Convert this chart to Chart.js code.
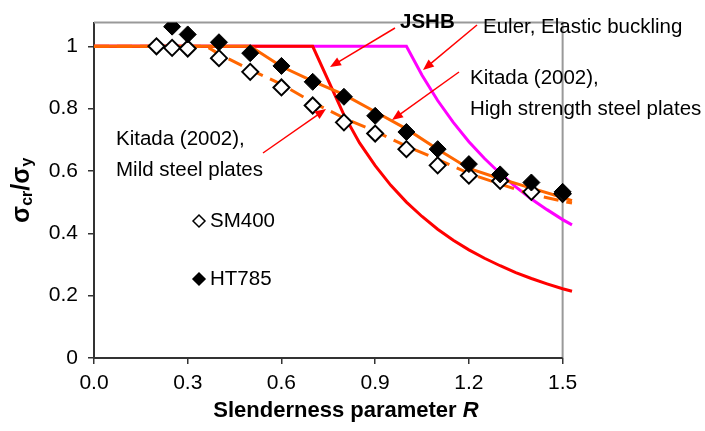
<!DOCTYPE html>
<html>
<head>
<meta charset="utf-8">
<script src="https://cdn.jsdelivr.net/npm/chart.js"></script>
<style>
  html, body { margin: 0; padding: 0; background: #fff; }
</style>
</head>
<body>
<canvas id="chart" width="705" height="431"></canvas>
<script>
// test data
const sm400R = [0.2, 0.25, 0.3, 0.4, 0.5, 0.6, 0.7, 0.8, 0.9, 1.0, 1.1, 1.2, 1.3, 1.4, 1.5];
const sm400 = [1.0, 0.995, 0.993, 0.962, 0.918, 0.868, 0.81, 0.756, 0.72, 0.67, 0.618, 0.585, 0.568, 0.533, 0.527];

const ht785R = [0.25, 0.3, 0.4, 0.5, 0.6, 0.7, 0.8, 0.9, 1.0, 1.1, 1.2, 1.3, 1.4, 1.5];
const ht785 = [1.063, 1.038, 1.013, 0.978, 0.937, 0.886, 0.838, 0.777, 0.725, 0.67, 0.622, 0.589, 0.563, 0.533];

// design curves (they run a little past R = 1.5 in the original)
const kitadaHsR = [0, 0.5, 0.6, 0.7, 0.8, 0.9, 1.0, 1.1, 1.2, 1.3, 1.4, 1.5, 1.53];
const kitadaHs = [1, 1, 0.935, 0.888, 0.845, 0.79, 0.735, 0.67, 0.608, 0.575, 0.545, 0.515, 0.505];

const kitadaMildR = [0, 0.36, 0.4, 0.5, 0.6, 0.7, 0.8, 0.9, 1.0, 1.1, 1.2, 1.3, 1.4, 1.5, 1.53];
const kitadaMild = [1, 1, 0.975, 0.925, 0.878, 0.82, 0.77, 0.727, 0.68, 0.637, 0.592, 0.558, 0.525, 0.503, 0.497];

const jshbR = [0, 0.7, 0.8, 0.85, 0.9, 0.95, 1.0, 1.05, 1.1, 1.15, 1.2, 1.25, 1.3, 1.35, 1.4, 1.45, 1.5, 1.53];
const jshb = [1, 1, 0.78, 0.69, 0.617, 0.554, 0.5, 0.454, 0.413, 0.378, 0.347, 0.32, 0.296, 0.274, 0.255, 0.238, 0.222, 0.214];

const eulerR = [0, 1.0, 1.05, 1.1, 1.15, 1.2, 1.25, 1.3, 1.35, 1.4, 1.45, 1.5, 1.53];
const euler = [1, 1, 0.907, 0.826, 0.756, 0.694, 0.64, 0.592, 0.549, 0.51, 0.476, 0.444, 0.427];

const xTicks = [0, 0.3, 0.6, 0.9, 1.2, 1.5];
const yTicks = [0, 0.2, 0.4, 0.6, 0.8, 1];
const xEnd = 1.5;

const FONT = '"Liberation Sans", Arial, sans-serif';
const ORANGE = '#ff6600';

function pts(xs, ys) {
    return xs.map((x, i) => ({ x: x, y: ys[i] }));
}

function arrow(ctx, x1, y1, x2, y2) {
    const a = Math.atan2(y2 - y1, x2 - x1);
    const c = Math.cos(a), s = Math.sin(a);
    ctx.beginPath();
    ctx.moveTo(x1, y1);
    ctx.lineTo(x2 - 8 * c, y2 - 8 * s);
    ctx.stroke();
    ctx.beginPath();
    ctx.moveTo(x2, y2);
    ctx.lineTo(x2 - 11 * c + 4.5 * s, y2 - 11 * s - 4.5 * c);
    ctx.lineTo(x2 - 11 * c - 4.5 * s, y2 - 11 * s + 4.5 * c);
    ctx.closePath();
    ctx.fill();
}

function diamond(ctx, x, y, r, filled) {
    ctx.beginPath();
    ctx.moveTo(x - r, y);
    ctx.lineTo(x, y - r);
    ctx.lineTo(x + r, y);
    ctx.lineTo(x, y + r);
    ctx.closePath();
    ctx.fillStyle = filled ? '#000' : '#fff';
    ctx.fill();
    ctx.lineWidth = 1.5;
    ctx.strokeStyle = '#000';
    ctx.stroke();
}

// frame, x axis line, axis titles, annotations
const extras = {
    id: 'extras',
    beforeDatasetsDraw(chart) {
        const { ctx, chartArea: a } = chart;
        const xr = chart.scales.x.getPixelForValue(xEnd);
        ctx.save();
        ctx.strokeStyle = '#999';
        ctx.lineWidth = 2;
        ctx.beginPath();
        ctx.moveTo(a.left, a.top);
        ctx.lineTo(xr, a.top);
        ctx.lineTo(xr, a.bottom);
        ctx.stroke();
        ctx.strokeStyle = '#333';
        ctx.beginPath();
        ctx.moveTo(a.left, a.bottom);
        ctx.lineTo(xr, a.bottom);
        ctx.stroke();
        ctx.restore();
    },
    afterDraw(chart) {
        const { ctx, chartArea: a } = chart;
        ctx.save();
        ctx.fillStyle = '#000';
        ctx.textBaseline = 'middle';

        // x title with italic R
        const t1 = 'Slenderness parameter ';
        ctx.font = 'bold 22px ' + FONT;
        const w1 = ctx.measureText(t1).width;
        ctx.font = 'italic bold 22px ' + FONT;
        const w2 = ctx.measureText('R').width;
        let x0 = 346 - (w1 + w2) / 2;
        ctx.font = 'bold 22px ' + FONT;
        ctx.textAlign = 'left';
        ctx.fillText(t1, x0, 411);
        ctx.font = 'italic bold 22px ' + FONT;
        ctx.fillText('R', x0 + w1, 411);

        // y title sigma_cr / sigma_y
        ctx.save();
        ctx.translate(22, (a.top + a.bottom) / 2);
        ctx.rotate(-Math.PI / 2);
        const parts = [
            { t: 'σ', f: 'bold 25px ' + FONT, dy: 0 },
            { t: 'cr', f: 'bold 16px ' + FONT, dy: 6 },
            { t: '/σ', f: 'bold 25px ' + FONT, dy: 0 },
            { t: 'y', f: 'bold 16px ' + FONT, dy: 6 }
        ];
        let total = 0;
        parts.forEach(p => { ctx.font = p.f; p.w = ctx.measureText(p.t).width; total += p.w; });
        let px = -total / 2;
        parts.forEach(p => {
            ctx.font = p.f;
            ctx.fillText(p.t, px, p.dy);
            px += p.w;
        });
        ctx.restore();

        // annotations
        ctx.font = 'bold 20.5px ' + FONT;
        ctx.fillText('JSHB', 400, 22);
        ctx.font = '20.5px ' + FONT;
        ctx.fillText('Euler, Elastic buckling', 483, 27);
        ctx.fillText('Kitada (2002),', 470, 78);
        ctx.fillText('High strength steel plates', 470, 109);
        ctx.fillText('Kitada (2002),', 116, 139);
        ctx.fillText('Mild steel plates', 116, 170);

        ctx.strokeStyle = '#ff0000';
        ctx.fillStyle = '#ff0000';
        ctx.lineWidth = 1.5;
        arrow(ctx, 395, 28, 330, 67);
        arrow(ctx, 477, 25, 423, 70);
        arrow(ctx, 459, 72, 392, 120);
        arrow(ctx, 263, 153, 326, 109);

        // marker key
        diamond(ctx, 199, 221, 6, false);
        diamond(ctx, 199, 279, 6, true);
        ctx.fillStyle = '#000';
        ctx.font = '20.5px ' + FONT;
        ctx.fillText('SM400', 210, 221);
        ctx.fillText('HT785', 210, 279);
        ctx.restore();
    }
};

const lineStyle = {
    showLine: true,
    pointRadius: 0,
    borderWidth: 3,
    tension: 0,
    fill: false,
    clip: false
};

new Chart(document.getElementById('chart'), {
    type: 'line',
    data: {
        datasets: [
            { label: 'HT785', data: pts(ht785R, ht785), showLine: false,
                pointStyle: 'rectRot', pointRadius: 8.5, backgroundColor: '#000',
                borderColor: '#000', pointBorderWidth: 1, order: 0 },
            { label: 'SM400', data: pts(sm400R, sm400), showLine: false,
                pointStyle: 'rectRot', pointRadius: 8, backgroundColor: '#fff',
                borderColor: '#000', pointBorderWidth: 2, order: 1 },
            Object.assign({}, lineStyle, { label: 'Kitada HSS', data: pts(kitadaHsR, kitadaHs),
                borderColor: ORANGE, order: 2 }),
            Object.assign({}, lineStyle, { label: 'Kitada mild', data: pts(kitadaMildR, kitadaMild),
                borderColor: ORANGE, borderDash: [15, 8], order: 3 }),
            Object.assign({}, lineStyle, { label: 'JSHB', data: pts(jshbR, jshb),
                borderColor: '#ff0000', order: 4 }),
            Object.assign({}, lineStyle, { label: 'Euler', data: pts(eulerR, euler),
                borderColor: '#ff00ff', order: 5 })
        ]
    },
    options: {
        responsive: false,
        animation: false,
        layout: { padding: { top: 15, right: 133, left: 0, bottom: 0 } },
        plugins: {
            legend: { display: false },
            tooltip: { enabled: false }
        },
        scales: {
            x: {
                type: 'linear',
                min: 0,
                max: 1.53,
                afterFit: s => { s.height = 73; },
                afterBuildTicks: s => { s.ticks = xTicks.map(v => ({ value: v })); },
                ticks: {
                    callback: v => v.toFixed(1),
                    color: '#000',
                    font: { family: FONT, size: 21 },
                    padding: 7,
                    maxRotation: 0
                },
                grid: { drawOnChartArea: false, tickLength: 6, color: '#333', lineWidth: 1.5 },
                border: { display: false }
            },
            y: {
                min: 0,
                max: 1.076,
                afterFit: s => { s.width = 94; },
                afterBuildTicks: s => { s.ticks = yTicks.map(v => ({ value: v })); },
                ticks: {
                    callback: v => String(v),
                    color: '#000',
                    font: { family: FONT, size: 21 },
                    padding: 10
                },
                grid: { drawOnChartArea: false, tickLength: 6, color: '#333', lineWidth: 1.5 },
                border: { color: '#333', width: 2 }
            }
        }
    },
    plugins: [extras]
});
</script>
</body>
</html>
